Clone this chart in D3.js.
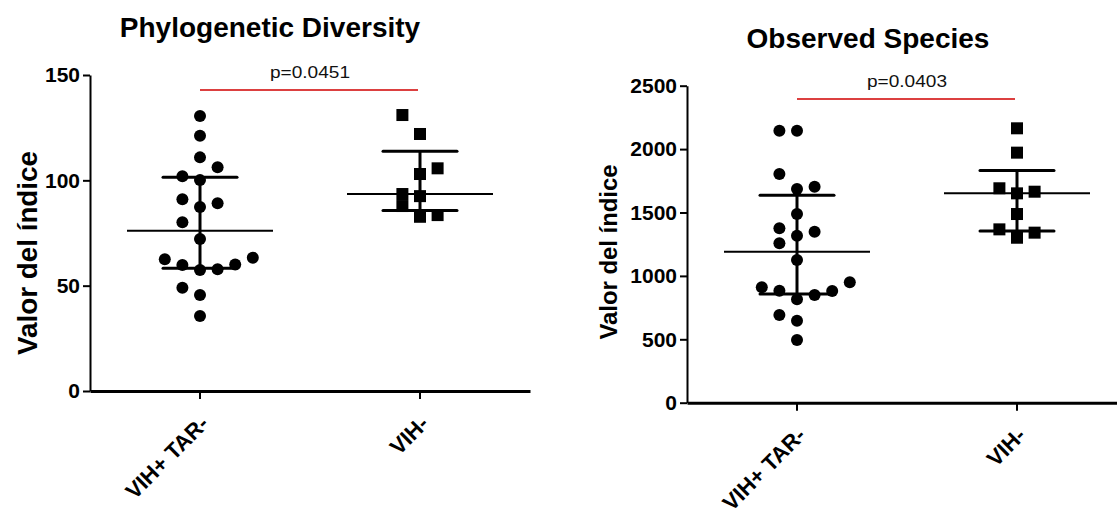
<!DOCTYPE html>
<html>
<head>
<meta charset="utf-8">
<script src="https://cdn.jsdelivr.net/npm/d3@7"></script>
<style>
  body { margin: 0; background: #fff; }
  svg { display: block; font-family: "Liberation Sans", Arial, sans-serif; }
</style>
</head>
<body>
<svg width="1117" height="515"></svg>
<script>
// groups on the x axis
var categories = ["VIH+ TAR-", "VIH-"];

// Phylogenetic Diversity, one value per subject (slot = side-by-side column of the scatter)
var pdTar     = [130.5, 121.2, 110.9, 106.2, 101.9, 100.1, 91.0, 89.1, 87.3, 80.1, 72.1, 62.5, 63.3, 59.8, 57.4, 57.8, 60.1, 49.0, 45.6, 35.6];
var pdTarSlot = [0, 0, 0, 1, -1, 0, -1, 1, 0, -1, 0, -2, 3, -1, 0, 1, 2, -1, 0, 0];
var pdNeg     = [131.0, 122.0, 105.7, 103.0, 93.5, 87.8, 92.5, 82.7, 83.5];
var pdNegSlot = [-1, 0, 1, 0, -1, -1, 0, 0, 1];
var pdTicks   = [0, 50, 100, 150];

// Observed Species
var osTar     = [2145, 2145, 1804, 1685, 1703, 1488, 1375, 1349, 1317, 1257, 1125, 910, 883, 815, 849, 881, 949, 692, 647, 494];
var osTarSlot = [-1, 0, -1, 0, 1, 0, -1, 1, 0, -1, 0, -2, -1, 0, 1, 2, 3, -1, 0, 0];
var osNeg     = [2164, 1972, 1691, 1651, 1664, 1488, 1367, 1341, 1301];
var osNegSlot = [0, 0, -1, 0, 1, 0, -1, 1, 0];
var osTicks   = [0, 500, 1000, 1500, 2000, 2500];

var titles  = ["Phylogenetic Diversity", "Observed Species"];
var pValues = ["p=0.0451", "p=0.0403"];
var bracketAt = [142.9, 2395];
var yLabel = "Valor del índice";

var svg = d3.select("svg");

// quartiles the way Prism does them ((n+1)p)
function quart(vals, p) {
  var s = vals.slice().sort(d3.ascending), n = s.length;
  var pos = (n + 1) * p;
  if (pos <= 1) return s[0];
  if (pos >= n) return s[n - 1];
  var lo = Math.floor(pos), f = pos - lo;
  return s[lo - 1] + f * (s[lo] - s[lo - 1]);
}

function drawPanel(o) {
  var g = svg.append("g");

  var x = d3.scaleBand().domain(categories).range([o.left, o.right]);
  var y = d3.scaleLinear().domain([0, o.ticks[o.ticks.length - 1]]).range([o.bottom, o.top]);
  var slot = d3.scaleLinear().domain([0, 1]).range([0, 17.6]);
  var cx = function (c) { return x(c) + x.bandwidth() / 2; };

  // axes
  var gy = g.append("g")
    .attr("transform", "translate(" + o.left + ",0)")
    .call(d3.axisLeft(y).tickValues(o.ticks).tickFormat(d3.format("d"))
      .tickSize(7).tickSizeOuter(0).tickPadding(3));
  gy.select(".domain").attr("stroke-width", 2);
  gy.selectAll(".tick line").attr("stroke-width", 2);
  gy.selectAll(".tick text")
    .attr("font-size", 21).attr("font-weight", "bold")
    .attr("font-family", "Liberation Sans, Arial, sans-serif").attr("fill", "#000");

  var gx = g.append("g")
    .attr("transform", "translate(0," + o.bottom + ")")
    .call(d3.axisBottom(x).tickSize(8).tickSizeOuter(0).tickFormat(""));
  gx.select(".domain").attr("stroke-width", 3);
  gx.selectAll(".tick line").attr("stroke-width", 2);

  // rotated category labels
  g.selectAll("text.cat").data(categories).enter().append("text")
    .attr("class", "cat")
    .attr("transform", function (d) { return "translate(" + (cx(d) + 10) + "," + (o.bottom + 34) + ") rotate(-45)"; })
    .attr("text-anchor", "end")
    .attr("font-size", 22).attr("font-weight", "bold")
    .text(function (d) { return d; });

  // title and y label
  g.append("text")
    .attr("x", o.titleX).attr("y", o.titleY)
    .attr("text-anchor", "middle")
    .attr("font-size", 28).attr("font-weight", "bold")
    .text(o.title);

  g.append("text")
    .attr("transform", "translate(" + o.ylabX + "," + o.ylabY + ") rotate(-90)")
    .attr("text-anchor", "middle")
    .attr("font-size", o.ylabSize).attr("font-weight", "bold")
    .attr("textLength", o.ylabLen).attr("lengthAdjust", "spacingAndGlyphs")
    .text(yLabel);

  // scatter
  var groups = [
    { cat: categories[0], vals: o.a, slots: o.aSlot, shape: "circle" },
    { cat: categories[1], vals: o.b, slots: o.bSlot, shape: "square" }
  ];

  groups.forEach(function (grp) {
    var pts = grp.vals.map(function (v, i) { return { v: v, s: grp.slots[i] }; });
    var c = cx(grp.cat);
    var med = quart(grp.vals, 0.5), q1 = quart(grp.vals, 0.25), q3 = quart(grp.vals, 0.75);

    if (grp.shape === "circle") {
      g.selectAll(null).data(pts).enter().append("circle")
        .attr("cx", function (d) { return c + slot(d.s); })
        .attr("cy", function (d) { return y(d.v); })
        .attr("r", 6)
        .attr("fill", "#000");
    } else {
      g.selectAll(null).data(pts).enter().append("rect")
        .attr("x", function (d) { return c + slot(d.s) - 6; })
        .attr("y", function (d) { return y(d.v) - 6; })
        .attr("width", 12).attr("height", 12)
        .attr("fill", "#000");
    }

    // median with interquartile range
    g.append("line").attr("x1", c).attr("x2", c).attr("y1", y(q1)).attr("y2", y(q3))
      .attr("stroke", "#000").attr("stroke-width", 3);
    [q1, q3].forEach(function (q) {
      g.append("line").attr("x1", c - 37).attr("x2", c + 37).attr("y1", y(q)).attr("y2", y(q))
        .attr("stroke", "#000").attr("stroke-width", 3).attr("stroke-linecap", "round");
    });
    g.append("line").attr("x1", c - 73).attr("x2", c + 73).attr("y1", y(med)).attr("y2", y(med))
      .attr("stroke", "#000").attr("stroke-width", 2);
  });

  // significance bracket
  var by = y(o.bracket);
  g.append("line")
    .attr("x1", cx(categories[0])).attr("x2", cx(categories[1]) - 2)
    .attr("y1", by).attr("y2", by)
    .attr("stroke", "#d00000").attr("stroke-width", 1.5);
  g.append("text")
    .attr("x", (cx(categories[0]) + cx(categories[1])) / 2).attr("y", by - 12)
    .attr("text-anchor", "middle")
    .attr("font-size", 17).attr("fill", "#111")
    .attr("textLength", 80).attr("lengthAdjust", "spacingAndGlyphs")
    .text(o.p);
}

drawPanel({
  left: 90, right: 530, top: 75, bottom: 391,
  ticks: pdTicks, a: pdTar, aSlot: pdTarSlot, b: pdNeg, bSlot: pdNegSlot,
  title: titles[0], titleX: 270, titleY: 37,
  ylabX: 37, ylabY: 253, ylabSize: 27, ylabLen: 204,
  bracket: bracketAt[0], p: pValues[0]
});

drawPanel({
  left: 687, right: 1127, top: 85.7, bottom: 402.7,
  ticks: osTicks, a: osTar, aSlot: osTarSlot, b: osNeg, bSlot: osNegSlot,
  title: titles[1], titleX: 868, titleY: 48,
  ylabX: 617, ylabY: 252, ylabSize: 23, ylabLen: 175,
  bracket: bracketAt[1], p: pValues[1]
});
</script>
</body>
</html>
